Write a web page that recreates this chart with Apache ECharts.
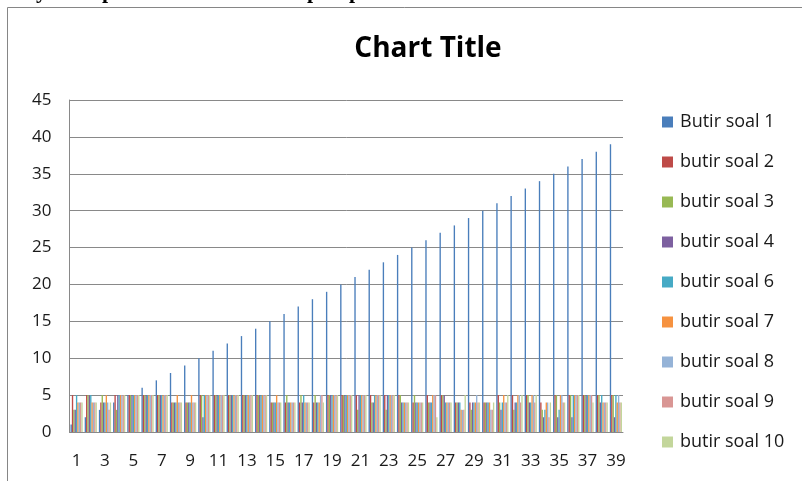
<!DOCTYPE html>
<html>
<head>
<meta charset="utf-8">
<script src="https://cdn.jsdelivr.net/npm/echarts@6/dist/echarts.min.js"></script>
<style>html,body{margin:0;padding:0;background:#fff}#c{width:802px;height:481px}</style>
</head>
<body>
<div id="c"></div>
<script>
const categories = Array.from({length: 39}, (_, i) => String(i + 1));
const seriesNames = ['Butir soal 1','butir soal 2','butir soal 3','butir soal 4','butir soal 6','butir soal 7','butir soal 8','butir soal 9','butir soal 10'];
const soal1  = [1,2,3,4,5,6,7,8,9,10,11,12,13,14,15,16,17,18,19,20,21,22,23,24,25,26,27,28,29,30,31,32,33,34,35,36,37,38,39];
const soal2  = [5,5,4,5,5,5,5,4,4,5, 5,5,5,5,4,4,4,4,5,5, 5,5,5,5,4,5,5,4,4,4, 5,5,5,4,5,5,5,5,5];
const soal3  = [3,5,5,3,5,5,5,4,4,5, 5,5,5,5,4,5,5,5,5,5, 3,4,3,5,5,4,5,4,3,4, 4,3,5,3,5,5,5,5,5];
const soal4  = [3,5,4,5,5,5,5,4,4,2, 5,5,5,5,4,4,4,4,5,5, 5,4,5,4,4,4,5,4,4,4, 3,4,4,2,2,2,5,4,2];
const soal6  = [5,5,4,5,5,5,5,4,4,5, 5,5,5,5,4,4,5,4,5,5, 5,5,5,4,4,4,4,4,4,4, 4,4,4,3,3,5,5,5,5];
const soal7  = [4,4,5,5,5,5,5,5,5,5, 5,5,5,5,5,4,4,4,5,5, 5,5,5,4,4,5,4,3,4,4, 5,5,5,4,5,5,5,4,4];
const soal8  = [4,4,4,5,5,5,5,4,4,5, 5,5,5,5,4,4,4,5,5,5, 5,5,5,4,4,5,4,3,5,3, 4,5,5,4,5,5,5,4,5];
const soal9  = [4,4,3,5,5,5,5,4,4,5, 5,5,5,5,4,4,4,5,5,5, 5,5,5,4,4,5,4,3,4,3, 4,4,4,2,4,5,5,4,4];
const soal10 = [4,4,4,5,5,5,5,4,4,5, 5,5,5,5,4,4,4,4,5,5, 5,5,5,4,4,2,4,5,4,4, 5,5,5,4,4,5,4,4,4];
const yTicks = [0,5,10,15,20,25,30,35,40,45];

const allData = [soal1, soal2, soal3, soal4, soal6, soal7, soal8, soal9, soal10];
const colors = ['#4A7EBB','#BE4B48','#98B954','#7D60A0','#46AAC5','#F69240','#95B3D7','#D99694','#C3D69B'];

const chart = echarts.init(document.getElementById('c'), null, {renderer: 'canvas'});
const font = '"Open Sans", Lato, sans-serif';
chart.setOption({
  animation: false,
  color: colors,
  title: {
    text: 'Chart Title', left: 423, top: 30, textAlign: 'center',
    textStyle: {fontFamily: font, fontWeight: 'bold', fontSize: 28, color: '#000'}
  },
  legend: {
    orient: 'vertical', left: 657, top: 108,
    itemWidth: 11, itemHeight: 11, itemGap: 22,
    icon: 'rect',
    textStyle: {fontFamily: font, fontSize: 18, lineHeight: 18, color: '#1a1a1a', padding: [0,0,0,2]},
    data: seriesNames
  },
  grid: {left: 69.5, right: 179, top: 100, bottom: 49, containLabel: false},
  xAxis: {
    type: 'category', data: categories,
    axisTick: {show: false},
    axisLine: {lineStyle: {color: '#898989', width: 1}},
    axisLabel: {interval: 1, fontFamily: font, fontSize: 17, color: '#1a1a1a', margin: 21}
  },
  yAxis: {
    type: 'value', min: yTicks[0], max: yTicks[yTicks.length - 1], interval: 5,
    axisLine: {show: true, lineStyle: {color: '#898989'}},
    axisTick: {show: false},
    splitLine: {lineStyle: {color: '#898989', width: 1}},
    axisLabel: {fontFamily: font, fontSize: 17, color: '#1a1a1a', margin: 18}
  },
  series: seriesNames.map((n, i) => ({
    name: n, type: 'bar', data: allData[i],
    barGap: '0%', barCategoryGap: '14%',
    itemStyle: {color: colors[i]}
  })),
  graphic: [
    {type: 'line', shape: {x1: 7.5, y1: 7.5, x2: 802, y2: 7.5}, style: {stroke: '#868686', lineWidth: 1}},
    {type: 'line', shape: {x1: 7.5, y1: 7.5, x2: 7.5, y2: 481}, style: {stroke: '#868686', lineWidth: 1}},
    {type: 'text', left: 36, top: -19, style: {text: 'y', font: 'bold 22px "Liberation Serif"', fill: '#000'}},
    {type: 'text', left: 102, top: -19, style: {text: 'p', font: 'bold 22px "Liberation Serif"', fill: '#000'}},
    {type: 'text', left: 307, top: -19, style: {text: 'p', font: 'bold 22px "Liberation Serif"', fill: '#000'}},
    {type: 'text', left: 349, top: -19, style: {text: 'p', font: 'bold 22px "Liberation Serif"', fill: '#000'}}
  ]
});
</script>
</body>
</html>
